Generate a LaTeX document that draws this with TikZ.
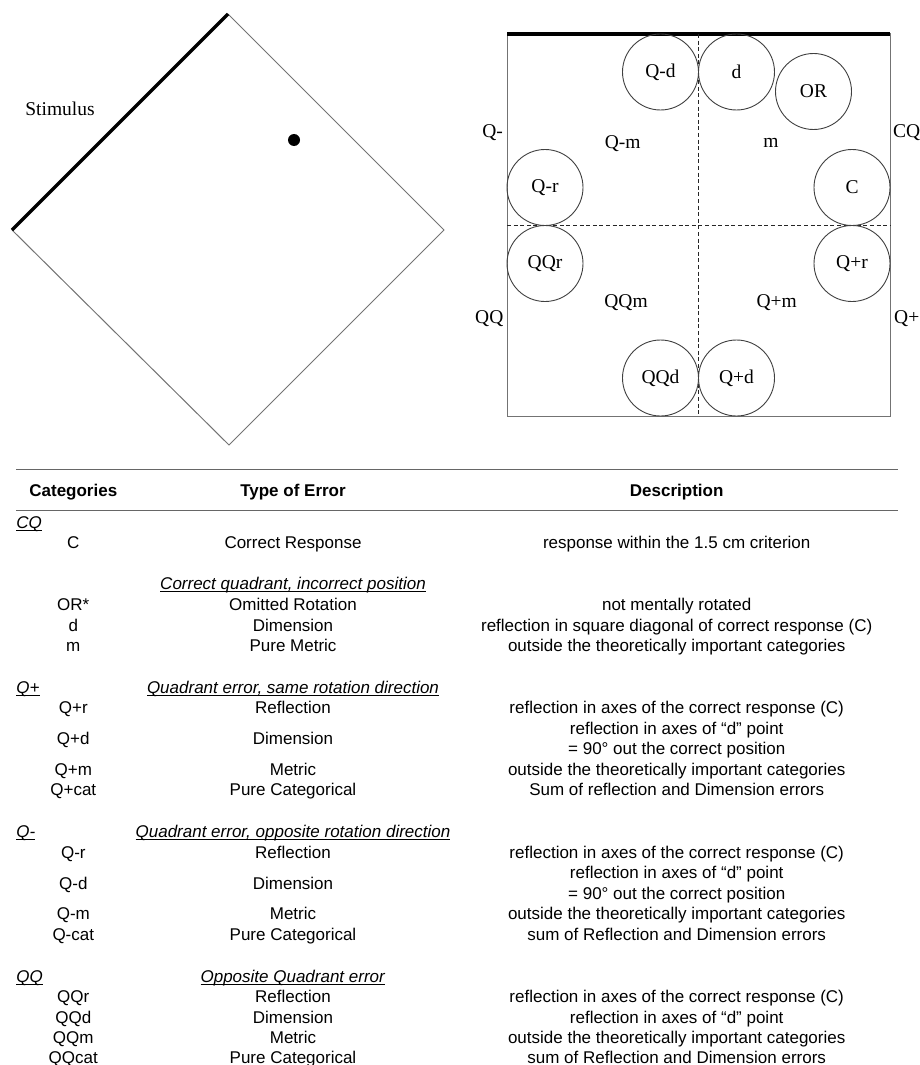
\documentclass[tikz,border=0pt]{standalone}
\usepackage{fontspec}
\setmainfont{Liberation Serif}
\setsansfont{Liberation Sans}

\newcommand{\figfont}{\fontsize{9.75}{11.7}\selectfont}
\newcommand{\tabfont}{\sffamily\fontsize{8.5}{10.3}\selectfont}
\newcommand{\grouphead}[1]{\sbox0{\textit{#1}}\rlap{\usebox0}\rule[-1.2pt]{\wd0}{0.45pt}}

\begin{document}
\begin{tikzpicture}[
    x=0.5pt, y=-0.5pt,
    every node/.style={inner sep=0pt},
    figlabel/.style={font=\figfont},
    zone/.style={circle, draw=black!75, line width=0.45pt, minimum size=38pt, inner sep=0pt, font=\figfont},
    outline/.style={draw=black!55, line width=0.5pt},
    thickside/.style={line width=1.65pt},
    midline/.style={dash pattern=on 2pt off 1.3pt, line width=0.5pt, draw=black!85},
    rule/.style={draw=black!60, line width=0.6pt},
    headcell/.style={font=\tabfont\bfseries, anchor=base},
    cell/.style={font=\tabfont, anchor=base},
    grouplabel/.style={font=\tabfont, anchor=base west}
]
\useasboundingbox (0,0) rectangle (920,1065);

%% ---- Stimulus diamond ----
\coordinate (dtop) at (228,14);
\coordinate (dlft) at (12,230);
\coordinate (drgt) at (444,230);
\coordinate (dbot) at (229,445);
\draw[outline] (dtop) -- (drgt) -- (dbot) -- (dlft);
\draw[thickside] (dlft) -- (dtop);
\node[circle, fill, minimum size=6pt] (target) at (294,140) {};
\node[figlabel] (stim) at (60,109) {Stimulus};

%% ---- Response square ----
\coordinate (sqnw) at (507,34);
\coordinate (sqne) at (890,34);
\coordinate (sqse) at (890,416);
\coordinate (vtop) at (698.5,34);
\coordinate (vbot) at (698.5,416);
\coordinate (hlft) at (507,225.5);
\coordinate (hrgt) at (890,225.5);
\draw[outline] (sqnw) rectangle (sqse);
\draw[thickside] (sqnw) -- (sqne);
\draw[midline] (vtop) -- (vbot);
\draw[midline] (hlft) -- (hrgt);

%% ---- Error zones ----
\node[zone] (qmd) at (660.5,72) {Q-d};
\node[zone] (d) at (736.5,72) {d};
\node[zone] (or) at (813.5,91.5) {OR};
\node[zone] (qmr) at (545,187.5) {Q-r};
\node[zone] (c) at (852,187.5) {C};
\node[zone] (qqr) at (545,263.5) {QQr};
\node[zone] (qpr) at (852,263.5) {Q+r};
\node[zone] (qqd) at (660.5,378) {QQd};
\node[zone] (qpd) at (736.5,378) {Q+d};

%% ---- Metric labels ----
\node[figlabel] (qmm) at (622.7,143.3) {Q-m};
\node[figlabel] (m) at (771,143.3) {m};
\node[figlabel] (qqm) at (626,302.7) {QQm};
\node[figlabel] (qpm) at (776.7,302.7) {Q+m};

%% ---- Quadrant labels ----
\node[figlabel] (qminus) at (492.7,132.7) {Q-};
\node[figlabel] (cq) at (906.7,132.7) {CQ};
\node[figlabel] (qq) at (489.3,318.3) {QQ};
\node[figlabel] (qplus) at (906.7,318.3) {Q+};

%% ---- Table rules and header ----
\coordinate (rtl) at (16,469.5);
\coordinate (rtr) at (898,469.5);
\coordinate (rhl) at (16,510.5);
\coordinate (rhr) at (898,510.5);
\draw[rule] (rtl) -- (rtr);
\draw[rule] (rhl) -- (rhr);
\node[headcell] (hcat) at (73.3,496) {Categories};
\node[headcell] (htype) at (293,496) {Type of Error};
\node[headcell] (hdesc) at (676.7,496) {Description};

%% ---- CQ ----
\node[grouplabel] (gcq) at (16,528) {\grouphead{CQ}};
\node[cell] (catc) at (73.3,548) {C};
\node[cell] (typec) at (293,548) {Correct Response};
\node[cell] (descc) at (676.7,548) {response within the 1.5 cm criterion};
\node[cell] (gcqpos) at (293,589) {\grouphead{Correct quadrant, incorrect position}};
\node[cell] (cator) at (73.3,610) {OR*};
\node[cell] (typeor) at (293,610) {Omitted Rotation};
\node[cell] (descor) at (676.7,610) {not mentally rotated};
\node[cell] (catd) at (73.3,631) {d};
\node[cell] (typed) at (293,631) {Dimension};
\node[cell] (descd) at (676.7,631) {reflection in square diagonal of correct response (C)};
\node[cell] (catm) at (73.3,651) {m};
\node[cell] (typem) at (293,651) {Pure Metric};
\node[cell] (descm) at (676.7,651) {outside the theoretically important categories};

%% ---- Q+ ----
\node[grouplabel] (gqp) at (16,693) {\grouphead{Q+}};
\node[cell] (gqptype) at (293,693) {\grouphead{Quadrant error, same rotation direction}};
\node[cell] (catqpr) at (73.3,713) {Q+r};
\node[cell] (typeqpr) at (293,713) {Reflection};
\node[cell] (descqpr) at (676.7,713) {reflection in axes of the correct response (C)};
\node[cell] (catqpd) at (73.3,744) {Q+d};
\node[cell] (typeqpd) at (293,744) {Dimension};
\node[cell] (descqpda) at (676.7,734) {reflection in axes of “d” point};
\node[cell] (descqpdb) at (676.7,754) {= 90° out the correct position};
\node[cell] (catqpm) at (73.3,775) {Q+m};
\node[cell] (typeqpm) at (293,775) {Metric};
\node[cell] (descqpm) at (676.7,775) {outside the theoretically important categories};
\node[cell] (catqpc) at (73.3,795) {Q+cat};
\node[cell] (typeqpc) at (293,795) {Pure Categorical};
\node[cell] (descqpc) at (676.7,795) {Sum of reflection and Dimension errors};

%% ---- Q- ----
\node[grouplabel] (gqm) at (16,837) {\grouphead{Q-}};
\node[cell] (gqmtype) at (293,837) {\grouphead{Quadrant error, opposite rotation direction}};
\node[cell] (catqmr) at (73.3,858) {Q-r};
\node[cell] (typeqmr) at (293,858) {Reflection};
\node[cell] (descqmr) at (676.7,858) {reflection in axes of the correct response (C)};
\node[cell] (catqmd) at (73.3,889) {Q-d};
\node[cell] (typeqmd) at (293,889) {Dimension};
\node[cell] (descqmda) at (676.7,878) {reflection in axes of “d” point};
\node[cell] (descqmdb) at (676.7,899) {= 90° out the correct position};
\node[cell] (catqmm) at (73.3,919) {Q-m};
\node[cell] (typeqmm) at (293,919) {Metric};
\node[cell] (descqmm) at (676.7,919) {outside the theoretically important categories};
\node[cell] (catqmc) at (73.3,940) {Q-cat};
\node[cell] (typeqmc) at (293,940) {Pure Categorical};
\node[cell] (descqmc) at (676.7,940) {sum of Reflection and Dimension errors};

%% ---- QQ ----
\node[grouplabel] (gqq) at (16,982) {\grouphead{QQ}};
\node[cell] (gqqtype) at (293,982) {\grouphead{Opposite Quadrant error}};
\node[cell] (catqqr) at (73.3,1002) {QQr};
\node[cell] (typeqqr) at (293,1002) {Reflection};
\node[cell] (descqqr) at (676.7,1002) {reflection in axes of the correct response (C)};
\node[cell] (catqqd) at (73.3,1023) {QQd};
\node[cell] (typeqqd) at (293,1023) {Dimension};
\node[cell] (descqqd) at (676.7,1023) {reflection in axes of “d” point};
\node[cell] (catqqm) at (73.3,1043) {QQm};
\node[cell] (typeqqm) at (293,1043) {Metric};
\node[cell] (descqqm) at (676.7,1043) {outside the theoretically important categories};
\node[cell] (catqqc) at (73.3,1063) {QQcat};
\node[cell] (typeqqc) at (293,1063) {Pure Categorical};
\node[cell] (descqqc) at (676.7,1063) {sum of Reflection and Dimension errors};

\end{tikzpicture}
\end{document}
